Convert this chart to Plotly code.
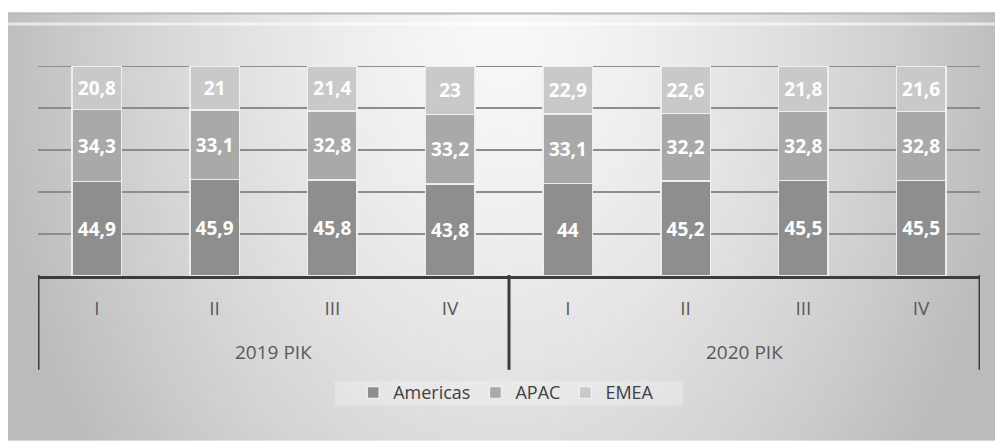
import base64, struct, zlib
import numpy as np
import plotly.graph_objects as go

# ---- data ----
quarters = ["I", "II", "III", "IV", "I", "II", "III", "IV"]
years = ["2019 РІК", "2020 РІК"]
americas = [44.9, 45.9, 45.8, 43.8, 44, 45.2, 45.5, 45.5]
apac = [34.3, 33.1, 32.8, 33.2, 33.1, 32.2, 32.8, 32.8]
emea = [20.8, 21, 21.4, 23, 22.9, 22.6, 21.8, 21.6]

series = [("Americas", americas, "#8e8e8e"),
          ("APAC", apac, "#a9a9a9"),
          ("EMEA", emea, "#c9c9c9")]


def fmt(v):
    return f"{v:g}".replace(".", ",")


# ---- background gradient image (PNG built in memory) ----
def gradient_png(w=200, h=90):
    xs = np.linspace(-1, 1, w)[None, :]
    ys = np.linspace(0, 1, h)[:, None]
    d = np.sqrt(xs ** 2 + (ys * 0.6) ** 2)
    d = np.clip(d, 0, 1.05)
    val = 248 - 56 * d ** 1.5
    val = np.clip(val, 0, 255).astype(np.uint8)
    rows = b"".join(b"\x00" + bytes(np.repeat(r, 3)) for r in val)

    def chunk(tag, data):
        c = struct.pack(">I", len(data)) + tag + data
        return c + struct.pack(">I", zlib.crc32(tag + data) & 0xffffffff)

    png = b"\x89PNG\r\n\x1a\n"
    png += chunk(b"IHDR", struct.pack(">IIBBBBB", w, h, 8, 2, 0, 0, 0))
    png += chunk(b"IDAT", zlib.compress(rows, 9))
    png += chunk(b"IEND", b"")
    return "data:image/png;base64," + base64.b64encode(png).decode()


# plot area pixel geometry
L, R, T, B = 38, 980, 65.5, 276
W, H = R - L, B - T


def px(x):
    return (x - L) / W


def py(y):
    return (B - y) / H


xidx = list(range(len(quarters)))

fig = go.Figure()
for name, vals, col in series:
    fig.add_trace(go.Bar(
        x=xidx, y=vals, name=name,
        marker=dict(color=col, line=dict(color="rgba(240,240,240,0.95)", width=1.5)),
        width=0.42,
        text=[fmt(v) for v in vals],
        textposition="inside", insidetextanchor="middle",
        textfont=dict(family="Open Sans", size=19, color="white", weight="bold"),
        constraintext="none",
    ))

fig.update_layout(
    barmode="stack",
    width=995, height=441,
    margin=dict(l=L, r=995 - R, t=T, b=441 - B, pad=0),
    paper_bgcolor="white",
    plot_bgcolor="rgba(0,0,0,0)",
    font=dict(family="Open Sans", color="#595959"),
    showlegend=True,
    legend=dict(orientation="h", x=0.497, xanchor="center", y=py(393), yanchor="middle",
                bgcolor="rgba(0,0,0,0)", font=dict(size=18, color="#404040"),
                traceorder="normal", itemwidth=30),
    xaxis=dict(range=[-0.5, 7.5], tickvals=xidx, ticktext=quarters,
               showgrid=False, zeroline=False, showline=True, linecolor="#3c3c3c", linewidth=3,
               ticks="outside", ticklen=13, tickcolor="rgba(0,0,0,0)",
               tickfont=dict(size=19, color="#595959")),
    yaxis=dict(range=[0, 100], tickvals=[20, 40, 60, 80], showticklabels=False,
               zeroline=False, showgrid=True, gridcolor="#8c8c8c", gridwidth=2, showline=False),
    images=[dict(source=gradient_png(), xref="paper", yref="paper",
                 x=px(8), y=py(12), sizex=px(995) - px(8), sizey=py(12) - py(441),
                 xanchor="left", yanchor="top", sizing="stretch", layer="below")],
)

shapes = [
    # top border lines of the panel
    dict(type="line", xref="paper", yref="paper", x0=px(8), x1=px(995), y0=py(13), y1=py(13),
         line=dict(color="#b9b9b9", width=2), layer="below"),
    dict(type="line", xref="paper", yref="paper", x0=px(8), x1=px(995), y0=py(23.5), y1=py(23.5),
         line=dict(color="rgba(255,255,255,0.6)", width=3), layer="below"),
    # top gridline (100 %)
    dict(type="line", xref="paper", yref="y", x0=0, x1=1, y0=100, y1=100,
         line=dict(color="#8c8c8c", width=2), layer="below"),
    # legend box
    dict(type="rect", xref="paper", yref="paper", x0=px(335), x1=px(683), y0=py(381), y1=py(406),
         fillcolor="rgba(255,255,255,0.25)", line=dict(width=0), layer="below"),
]
for xd in [-0.5, 3.5, 7.5]:
    shapes.append(dict(type="line", xref="x", yref="paper", x0=xd, x1=xd, y0=py(275), y1=py(370),
                       line=dict(color="#3c3c3c", width=3)))
fig.update_layout(shapes=shapes)

for i, yr in enumerate(years):
    fig.add_annotation(x=1.5 + 4 * i, xref="x", y=py(352), yref="paper", text=yr,
                       showarrow=False, font=dict(size=19, color="#595959"), yanchor="middle")

fig.write_html("out.html")
